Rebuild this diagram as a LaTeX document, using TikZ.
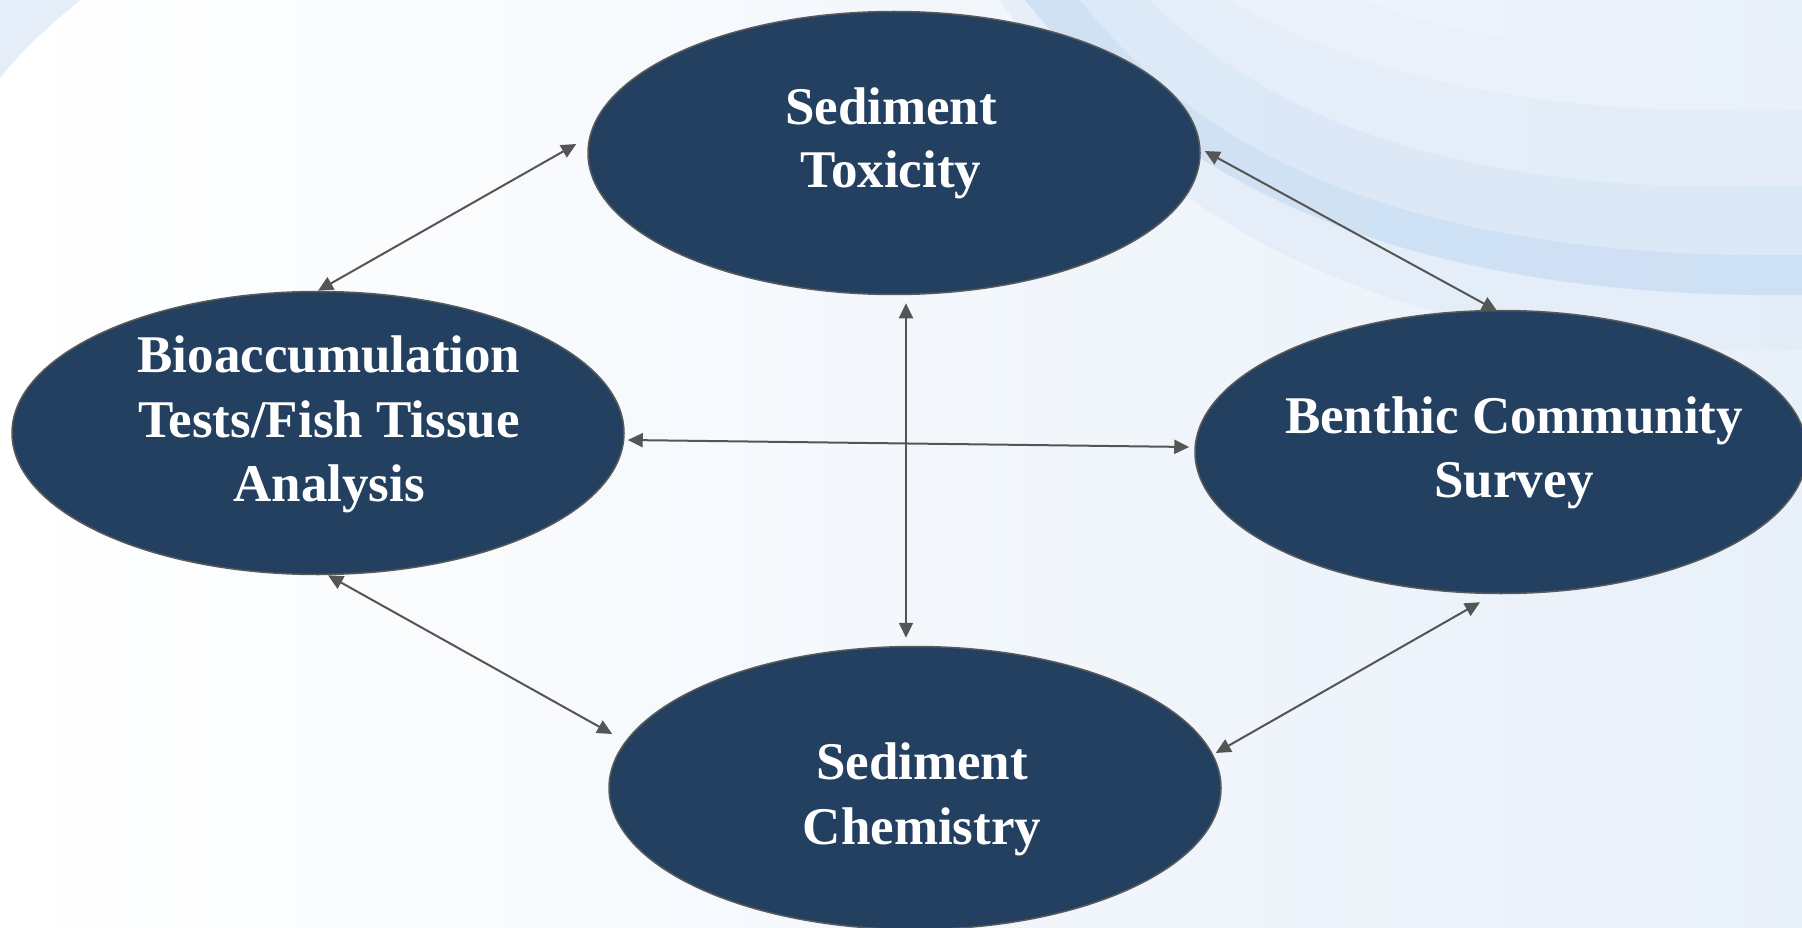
\documentclass[tikz,border=0pt]{standalone}
\usepackage{fontspec}
\setmainfont{Liberation Serif}
\usetikzlibrary{shapes.geometric,arrows.meta,calc}
\definecolor{navy}{HTML}{244060}
\definecolor{rim}{HTML}{5A5A5A}
\definecolor{arrowgray}{HTML}{555555}
\definecolor{bgblue}{HTML}{E8F0F9}
\definecolor{cornerblue}{HTML}{E4EDF8}
\definecolor{swA}{HTML}{C6DBF2}
\definecolor{swB}{HTML}{D8E6F6}
\definecolor{swC}{HTML}{E2ECF8}
\definecolor{swD}{HTML}{EAF1FA}
\tikzset{
  bubble/.style={ellipse, draw=rim, line width=1.5pt, fill=navy,
    minimum width=612pt, minimum height=283pt, inner sep=0pt},
  lbl/.style={text=white, font=\fontsize{53}{64}\selectfont\bfseries,
    anchor=base, inner sep=0pt},
  link/.style={draw=arrowgray, line width=2pt,
    {Triangle[length=15pt,width=14pt]}-{Triangle[length=15pt,width=14pt]}}
}
\begin{document}
\begin{tikzpicture}[x=1pt,y=-1pt]
\useasboundingbox (0,0) rectangle (1802,928);
% background
\shade[left color=white, right color=bgblue] (0,0) rectangle (1802,928);
\fill[cornerblue] (0,0) -- (80,0) .. controls (50,25) and (22,50) .. (0,78) -- cycle;
% swooshes top right
\fill[swC, opacity=0.7] (1000,0) .. controls (1150,230) and (1400,360) .. (1802,350)
  -- (1802,295) .. controls (1380,300) and (1160,170) .. (1025,0) -- cycle;
\fill[swA, opacity=0.75] (1025,0) .. controls (1160,170) and (1380,300) .. (1802,295)
  -- (1802,255) .. controls (1400,260) and (1200,150) .. (1080,0) -- cycle;
\fill[swB, opacity=0.8] (1080,0) .. controls (1200,150) and (1400,260) .. (1802,255)
  -- (1802,185) .. controls (1450,200) and (1260,110) .. (1150,0) -- cycle;
\fill[swC, opacity=0.8] (1150,0) .. controls (1260,110) and (1450,200) .. (1802,185)
  -- (1802,110) .. controls (1500,120) and (1330,60) .. (1230,0) -- cycle;
\fill[swD, opacity=0.8] (1230,0) .. controls (1330,60) and (1500,120) .. (1802,110)
  -- (1802,60) .. controls (1550,60) and (1450,30) .. (1360,0) -- cycle;
% ellipses
\node[bubble] (tox) at (894,153) {};
\node[bubble] (bio) at (318,433) {};
\node[bubble] (ben) at (1501,452) {};
\node[bubble] (chem) at (915,788) {};
% labels
\node[lbl] (tox1) at (891,125) {Sediment};
\node[lbl] (tox2) at (891,188) {Toxicity};
\node[lbl] (bio1) at (329,372) {Bioaccumulation};
\node[lbl] (bio2) at (329,437) {Tests/Fish Tissue};
\node[lbl] (bio3) at (329,501) {Analysis};
\node[lbl] (ben1) at (1514,433) {Benthic Community};
\node[lbl] (ben2) at (1514,497) {Survey};
\node[lbl] (chem1) at (922,779) {Sediment};
\node[lbl] (chem2) at (922,844) {Chemistry};
% connectors
\draw[link] ($(tox.west)+(-11,-9)$) -- (bio.north);
\draw[link] ($(tox.east)+(4,-2)$) -- ($(ben.north)+(-4,1)$);
\draw[link] ($(tox.south)+(12,8)$) -- ($(chem.north)+(-9,-8)$);
\draw[link] ($(bio.east)+(3,7)$) -- ($(ben.west)+(-5,-5)$);
\draw[link] ($(bio.south)+(10,0)$) -- ($(chem.west)+(4,-54)$);
\draw[link] ($(ben.south)+(-21,8)$) -- ($(chem.east)+(-6,-35)$);
\end{tikzpicture}
\end{document}
